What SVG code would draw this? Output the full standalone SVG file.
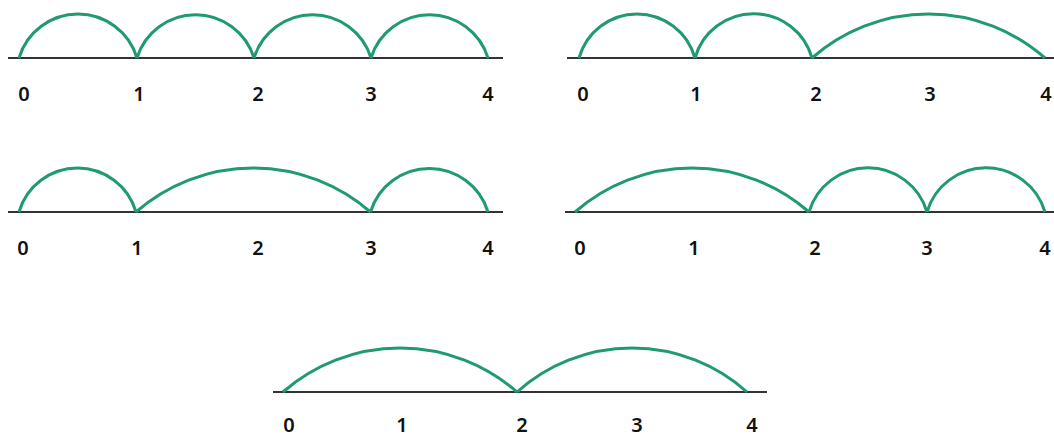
<svg xmlns="http://www.w3.org/2000/svg" width="1054" height="436" viewBox="0 0 1054 436">
<style>
.axis{stroke:#333;stroke-width:1.8;fill:none}
.arc{stroke:#1f9a72;stroke-width:3;fill:none}
.lbl{font-family:"Noto Sans","Liberation Sans",Arial,sans-serif;font-size:20px;font-weight:600;fill:#111;text-anchor:middle}
</style>
<rect width="1054" height="436" fill="#fff"/>
<g id="panel1">
<line class="axis" x1="8" y1="58" x2="503" y2="58"/>
<g id="p1-arcs">
<path class="arc" d="M19 58 A61.6 61.6 0 0 1 137 58"/>
<path class="arc" d="M137 58 A61.2 61.2 0 0 1 254 58"/>
<path class="arc" d="M254 58 A61.2 61.2 0 0 1 371 58"/>
<path class="arc" d="M371 58 A61.2 61.2 0 0 1 488 58"/>
</g>
<text class="lbl" x="24" y="100.5">0</text>
<text class="lbl" x="139" y="100.5">1</text>
<text class="lbl" x="258" y="100.5">2</text>
<text class="lbl" x="371" y="100.5">3</text>
<text class="lbl" x="488" y="100.5">4</text>
</g>
<g id="panel2">
<line class="axis" x1="567" y1="58" x2="1054" y2="58"/>
<g id="p2-arcs">
<path class="arc" d="M579 58 A60.2 60.2 0 0 1 695 58"/>
<path class="arc" d="M695 58 A60.8 60.8 0 0 1 812 58"/>
<path class="arc" d="M812 58 A176.2 176.2 0 0 1 1045 58"/>
</g>
<text class="lbl" x="583" y="100.5">0</text>
<text class="lbl" x="696" y="100.5">1</text>
<text class="lbl" x="816" y="100.5">2</text>
<text class="lbl" x="930" y="100.5">3</text>
<text class="lbl" x="1046" y="100.5">4</text>
</g>
<g id="panel3">
<line class="axis" x1="8" y1="212" x2="503" y2="212"/>
<g id="p3-arcs">
<path class="arc" d="M19 212 A60.9 60.9 0 0 1 136 212"/>
<path class="arc" d="M136 212 A178 178 0 0 1 370.5 212"/>
<path class="arc" d="M370.5 212 A61.4 61.4 0 0 1 488 212"/>
</g>
<text class="lbl" x="23" y="254.5">0</text>
<text class="lbl" x="137" y="254.5">1</text>
<text class="lbl" x="258" y="254.5">2</text>
<text class="lbl" x="371" y="254.5">3</text>
<text class="lbl" x="488" y="254.5">4</text>
</g>
<g id="panel4">
<line class="axis" x1="565" y1="212" x2="1054" y2="212"/>
<g id="p4-arcs">
<path class="arc" d="M575 212 A177.6 177.6 0 0 1 809 212"/>
<path class="arc" d="M809 212 A61.5 61.5 0 0 1 927 212"/>
<path class="arc" d="M927 212 A61.5 61.5 0 0 1 1045 212"/>
</g>
<text class="lbl" x="580" y="254.5">0</text>
<text class="lbl" x="694" y="254.5">1</text>
<text class="lbl" x="815" y="254.5">2</text>
<text class="lbl" x="927" y="254.5">3</text>
<text class="lbl" x="1045" y="254.5">4</text>
</g>
<g id="panel5">
<line class="axis" x1="273" y1="392" x2="767" y2="392"/>
<g id="p5-arcs">
<path class="arc" d="M283 392 A177.6 177.6 0 0 1 517 392"/>
<path class="arc" d="M517 392 A172.3 172.3 0 0 1 747 392"/>
</g>
<text class="lbl" x="289" y="432">0</text>
<text class="lbl" x="402" y="432">1</text>
<text class="lbl" x="522" y="432">2</text>
<text class="lbl" x="637" y="432">3</text>
<text class="lbl" x="752" y="432">4</text>
</g>
</svg>
